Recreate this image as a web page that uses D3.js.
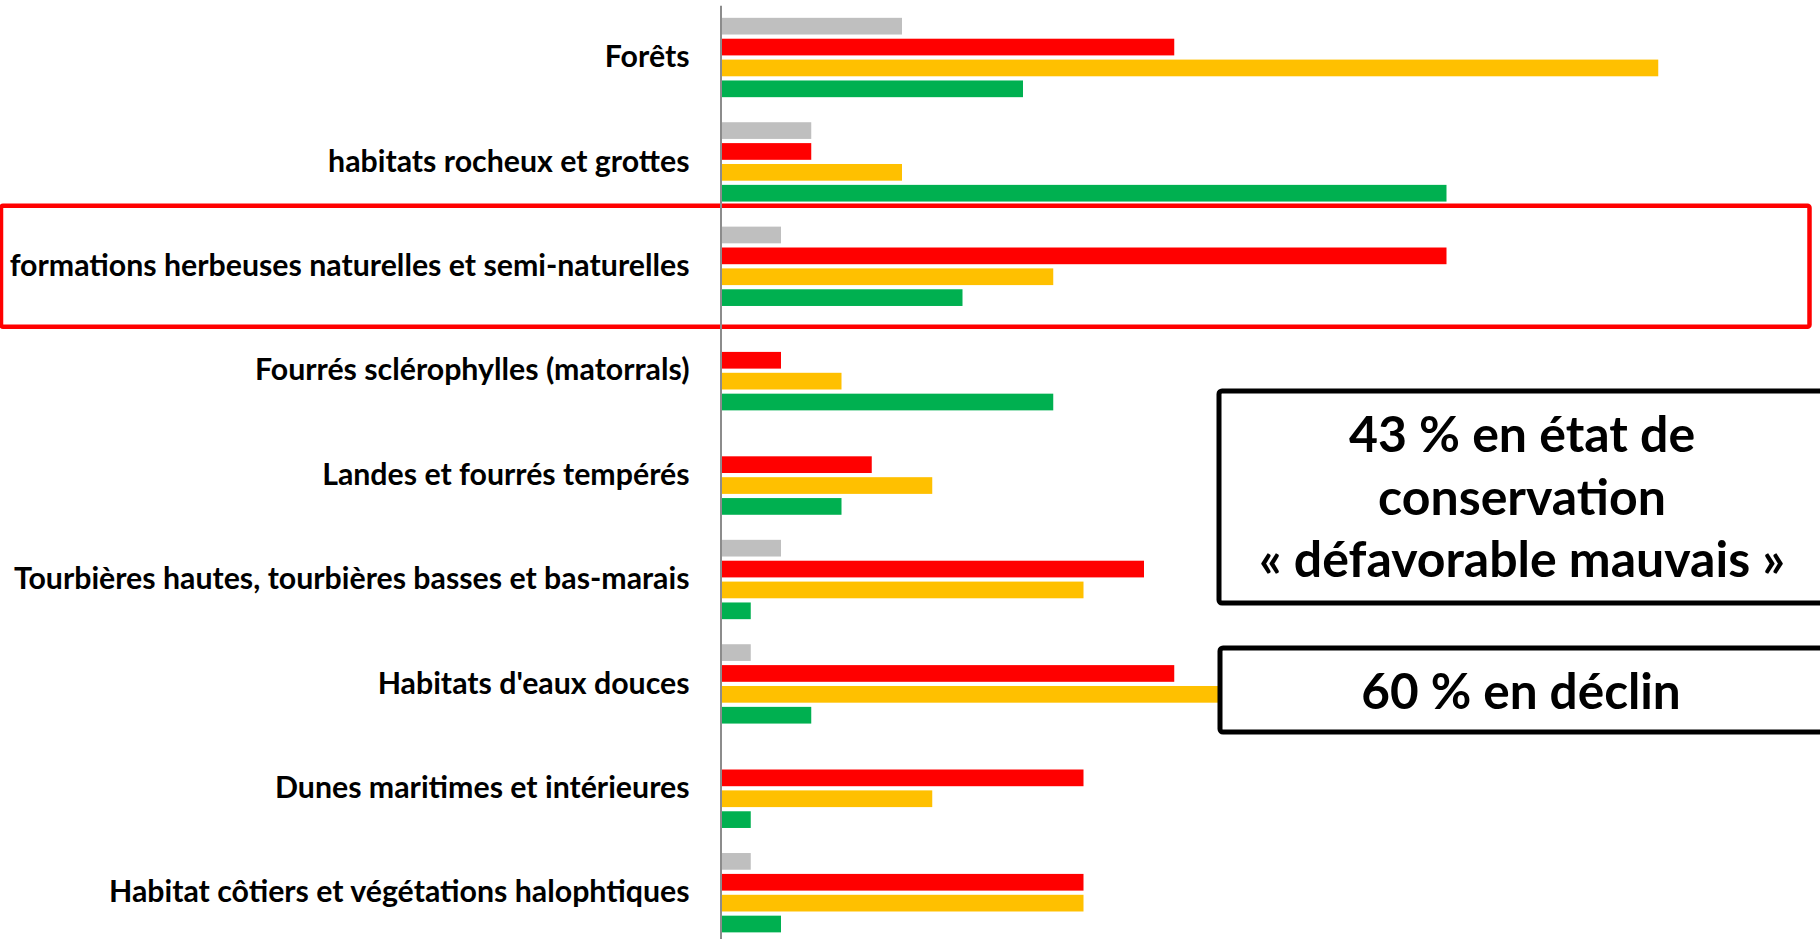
<!DOCTYPE html>
<html>
<head>
<meta charset="utf-8">
<script src="https://cdn.jsdelivr.net/npm/d3@7"></script>
<style>
  body { margin: 0; background: #fff; }
  svg { display: block; font-family: Lato, "Open Sans", sans-serif; }
</style>
</head>
<body>
<svg id="chart" width="1820" height="939"></svg>
<script>
// habitat groups, top to bottom
const categories = [
  "Forêts",
  "habitats rocheux et grottes",
  "formations herbeuses naturelles et semi-naturelles",
  "Fourrés sclérophylles (matorrals)",
  "Landes et fourrés tempérés",
  "Tourbières hautes, tourbières basses et bas-marais",
  "Habitats d'eaux douces",
  "Dunes maritimes et intérieures",
  "Habitat côtiers et végétations halophtiques"
];

// one array per conservation status
const seriesNames = ["inconnu", "défavorable mauvais", "défavorable inadéquat", "favorable"];
const seriesColors = ["#BFBFBF", "#FF0000", "#FFC000", "#00B050"];
const inconnu = [6, 3, 2, 0, 0, 2, 1, 0, 1];
const defavorableMauvais = [15, 3, 24, 2, 5, 14, 15, 12, 12];
const defavorableInadequat = [31, 6, 11, 4, 7, 12, 20, 7, 12];
const favorable = [10, 24, 8, 11, 4, 1, 3, 1, 2];

const highlighted = "formations herbeuses naturelles et semi-naturelles";
const note1 = ["43 % en état de", "conservation", "« défavorable mauvais »"];
const note2 = "60 % en déclin";

const seriesValues = [inconnu, defavorableMauvais, defavorableInadequat, favorable];

// build rows for the bars
const rows = [];
categories.forEach((cat, i) => {
  seriesNames.forEach((s, j) => {
    rows.push({ cat: cat, series: s, value: seriesValues[j][i], color: seriesColors[j] });
  });
});

const svg = d3.select("#chart");

const x = d3.scaleLinear().domain([0, 36]).range([720.5, 1809.5]);

const y = d3.scaleBand()
  .domain(categories)
  .range([5.3, 944.9])
  .paddingInner(0.2)
  .paddingOuter(0.1);

const ySub = d3.scaleBand()
  .domain(seriesNames)
  .range([0, y.bandwidth()])
  .paddingInner(0.2)
  .paddingOuter(0.1);

// red frame around the highlighted group
const hc = y(highlighted) + y.bandwidth() / 2;
svg.append("rect")
  .attr("x", 1)
  .attr("y", hc - y.step() * 0.58)
  .attr("width", x.range()[1] - 1)
  .attr("height", y.step() * 1.16)
  .attr("rx", 2)
  .attr("fill", "none")
  .attr("stroke", "#FF0000")
  .attr("stroke-width", 4.5);

// bars
svg.append("g")
  .selectAll("rect")
  .data(rows.filter(d => d.value > 0))
  .join("rect")
  .attr("x", x(0))
  .attr("y", d => y(d.cat) + ySub(d.series))
  .attr("width", d => x(d.value) - x(0))
  .attr("height", ySub.bandwidth())
  .attr("fill", d => d.color);

// category axis
const axis = svg.append("g")
  .attr("transform", `translate(${x(0)},0)`)
  .call(d3.axisLeft(y).tickSize(0).tickSizeOuter(0).tickPadding(31));

axis.select(".domain")
  .attr("stroke", "#8c8c8c")
  .attr("stroke-width", 2);

axis.selectAll(".tick text")
  .attr("font-family", "Lato, sans-serif")
  .attr("font-weight", "bold")
  .attr("font-size", 30.3)
  .attr("fill", "#000");

// annotation boxes
const box1 = svg.append("g");
box1.append("rect")
  .attr("x", 1219).attr("y", 391)
  .attr("width", 640).attr("height", 212)
  .attr("rx", 3)
  .attr("fill", "#fff")
  .attr("stroke", "#000")
  .attr("stroke-width", 5);
box1.selectAll("text")
  .data(note1)
  .join("text")
  .attr("x", 1522)
  .attr("y", (d, i) => 452 + i * 62.5)
  .attr("text-anchor", "middle")
  .attr("font-weight", "bold")
  .attr("font-size", 50)
  .attr("fill", "#000")
  .text(d => d);

const box2 = svg.append("g");
box2.append("rect")
  .attr("x", 1220).attr("y", 648)
  .attr("width", 640).attr("height", 84)
  .attr("rx", 3)
  .attr("fill", "#fff")
  .attr("stroke", "#000")
  .attr("stroke-width", 5);
box2.append("text")
  .attr("x", 1521)
  .attr("y", 709)
  .attr("text-anchor", "middle")
  .attr("font-weight", "bold")
  .attr("font-size", 49.5)
  .attr("fill", "#000")
  .text(note2);
</script>
</body>
</html>
